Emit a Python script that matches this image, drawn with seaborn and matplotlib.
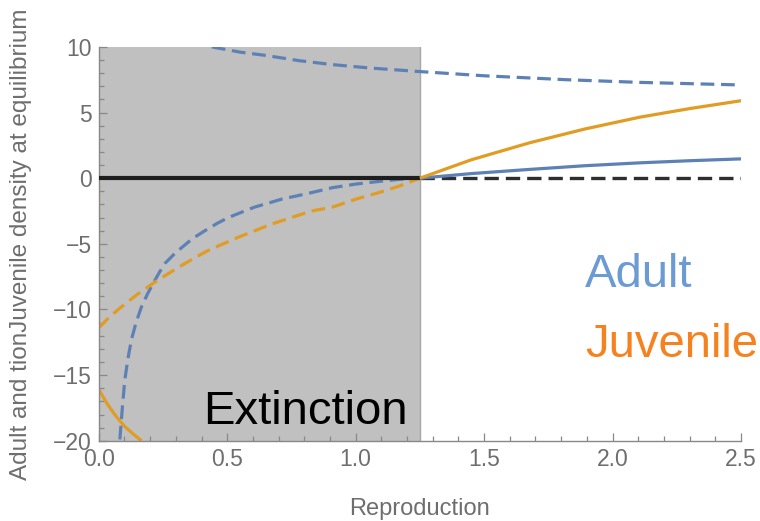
import matplotlib
matplotlib.use("Agg")
import matplotlib.pyplot as plt
from matplotlib.ticker import MultipleLocator
import seaborn as sns

# Equilibrium branches (reproduction, density)
adult_unstable_hi_x = [0.44, 0.55, 0.65, 0.78, 0.91, 1.05, 1.25, 1.50, 1.82, 2.10, 2.50]
adult_unstable_hi_y = [10.0, 9.6, 9.35, 8.95, 8.65, 8.4, 8.12, 7.8, 7.5, 7.3, 7.1]

adult_unstable_lo_x = [0.082, 0.092, 0.101, 0.113, 0.127, 0.145, 0.166, 0.19, 0.212, 0.235,
                       0.257, 0.29, 0.322, 0.365, 0.413, 0.46, 0.504, 0.555, 0.607,
                       0.66, 0.711, 0.77, 0.828, 0.91, 1.0, 1.09, 1.17, 1.25]
adult_unstable_lo_y = [-19.9, -17.4, -15.4, -13.8, -12.3, -11.0, -9.8, -8.8, -8.0, -7.2,
                       -6.5, -5.85, -5.3, -4.6, -4.0, -3.45, -3.0, -2.6, -2.2,
                       -1.9, -1.6, -1.35, -1.1, -0.72, -0.45, -0.25, -0.09, 0.0]

juv_unstable_x = [0.0, 0.04, 0.088, 0.15, 0.212, 0.26, 0.309, 0.37, 0.426, 0.543,
                  0.672, 0.828, 0.91, 1.0, 1.09, 1.17, 1.25]
juv_unstable_y = [-11.4, -10.6, -9.8, -8.85, -8.0, -7.4, -6.8, -6.1, -5.5, -4.5,
                  -3.5, -2.5, -2.2, -1.6, -1.1, -0.6, 0.0]

adult_stable_x = [1.25, 1.45, 1.678, 1.893, 2.107, 2.30, 2.50]
adult_stable_y = [0.0, 0.35, 0.67, 0.95, 1.17, 1.33, 1.47]

juv_stable_x = [1.25, 1.45, 1.678, 1.893, 2.107, 2.30, 2.50]
juv_stable_y = [0.0, 1.4, 2.7, 3.75, 4.65, 5.3, 5.9]

juv_edge_x = [0.0, 0.0]
juv_edge_y = [0.0, -11.4]

juv_low_x = [0.0, 0.03, 0.062, 0.1, 0.135, 0.166]
juv_low_y = [-16.1, -17.1, -18.0, -18.9, -19.5, -20.0]

zero_solid_x = [0.0, 1.25]
zero_dashed_x = [1.25, 2.5]
zero_y = [0.0, 0.0]

extinction_limit = 1.25
x_ticks = [0.0, 0.5, 1.0, 1.5, 2.0, 2.5]
y_ticks = [-20, -15, -10, -5, 0, 5, 10]

BLUE = "#5e81b5"
ORANGE = "#e19c24"
GRAY_TXT = "#6e6e6e"

sns.set_theme(style="white")
plt.rcParams["font.family"] = ["Liberation Sans", "DejaVu Sans"]

fig = plt.figure(figsize=(7.6, 5.21), dpi=100)
ax = fig.add_axes([0.130, 0.154, 0.845, 0.756])

ax.axvspan(0, extinction_limit, color="#c0c0c0", lw=0, zorder=0)
ax.axvline(extinction_limit, color="#a8a8a8", lw=1.0, zorder=0.5)

LW = 2.3
DASH = (4.3, 2.1)


def curve(xs, ys, color, dashed=False, lw=LW, z=2):
    sns.lineplot(x=xs, y=ys, sort=False, estimator=None, color=color,
                 linewidth=lw, ax=ax, zorder=z)
    line = ax.lines[-1]
    if dashed:
        line.set_dashes(DASH)
    line.set_solid_capstyle("butt")
    line.set_dash_capstyle("butt")


curve(zero_solid_x, zero_y, "#1e1e1e", lw=3.0, z=3)
curve(zero_dashed_x, zero_y, "#2e2e2e", dashed=True, lw=2.4, z=3)

curve(adult_unstable_hi_x, adult_unstable_hi_y, BLUE, dashed=True)
curve(adult_unstable_lo_x, adult_unstable_lo_y, BLUE, dashed=True)
curve(juv_unstable_x, juv_unstable_y, ORANGE, dashed=True)
curve(juv_edge_x, juv_edge_y, ORANGE, lw=1.6)
curve(juv_low_x, juv_low_y, ORANGE)
curve(adult_stable_x, adult_stable_y, BLUE, z=4)
curve(juv_stable_x, juv_stable_y, ORANGE, z=4)

ax.set_xlim(0, 2.5)
ax.set_ylim(-20, 10)
ax.set_xticks(x_ticks)
ax.set_xticklabels([f"{v:.1f}" for v in x_ticks])
ax.set_yticks(y_ticks)
ax.set_yticklabels([("\u2212" + str(abs(v))) if v < 0 else str(v) for v in y_ticks])
ax.xaxis.set_minor_locator(MultipleLocator(0.1))
ax.yaxis.set_minor_locator(MultipleLocator(1))
ax.tick_params(which="both", direction="in", color="#888888", width=0.9,
               bottom=True, left=True, top=False, right=False)
ax.tick_params(which="major", length=6, labelsize=16.5, labelcolor=GRAY_TXT, pad=5)
ax.tick_params(which="minor", length=3.5)

for side in ("top", "right"):
    ax.spines[side].set_visible(False)
for side in ("left", "bottom"):
    ax.spines[side].set_color("#888888")
    ax.spines[side].set_linewidth(1.0)

ax.set_xlabel("Reproduction", fontsize=17, color=GRAY_TXT, labelpad=20)
ax.set_ylabel("Adult and tionJuvenile density at equilibrium", fontsize=17.5,
              color=GRAY_TXT)
ax.yaxis.set_label_coords(-0.104, 0.5)

ax.text(0.405, -18.7, "Extinction", fontsize=34, color="black",
        ha="left", va="baseline", zorder=5)
ax.text(1.893, -8.3, "Adult", fontsize=34, color="#6b9bd2",
        ha="left", va="baseline", zorder=5)
ax.text(1.893, -13.6, "Juvenile", fontsize=34, color="#f5821f",
        ha="left", va="baseline", zorder=5)

fig.savefig("out.png", dpi=100)
